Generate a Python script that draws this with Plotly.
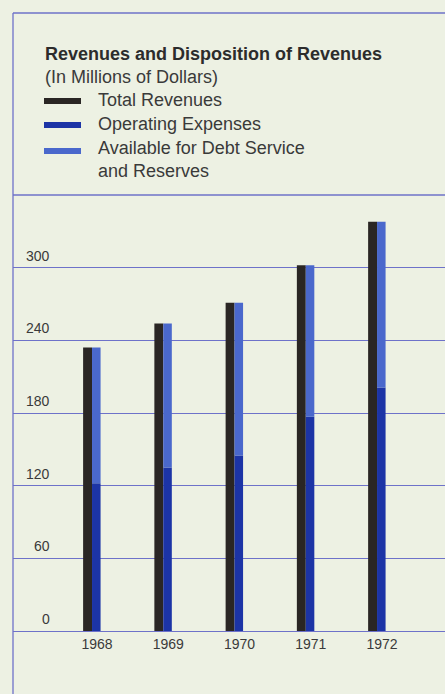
import plotly.graph_objects as go

# Revenues and disposition of revenues, in millions of dollars
years = [1968, 1969, 1970, 1971, 1972]
total_revenues = [234, 254, 271, 302, 338]
operating_expenses = [122, 135, 145, 177, 201]
available_for_debt = [112, 119, 126, 125, 137]
y_tick_values = [0, 60, 120, 180, 240, 300]
y_tick_labels = ["0", "60", "120", "180", "240", "300"]

W, H = 445, 694
ML, MR, MT, MB = 13, 0, 195, 63
PW, PH = W - ML - MR, H - MT - MB

BG = "#edf1e3"
GRID = "#6e72c9"
C_TOTAL = "#2a2624"
C_OPEX = "#1c34a6"
C_AVAIL = "#4a68cc"
TXT = "#3a3a3a"


def px_x(x):
    return (x - ML) / PW


def px_y(y):
    return (H - MB - y) / PH


fig = go.Figure()
fig.add_trace(go.Bar(x=years, y=total_revenues, name="Total Revenues",
                     marker=dict(color=C_TOTAL, line=dict(width=0)),
                     offset=-0.195, width=0.125))
fig.add_trace(go.Bar(x=years, y=operating_expenses, name="Operating Expenses",
                     marker=dict(color=C_OPEX, line=dict(width=0)),
                     offset=-0.07, width=0.12))
fig.add_trace(go.Bar(x=years, y=available_for_debt, base=operating_expenses,
                     name="Available for Debt Service<br>and Reserves",
                     marker=dict(color=C_AVAIL, line=dict(width=0)),
                     offset=-0.07, width=0.12))

shapes = []
annotations = []

# frame: top edge, left edge
line_style = dict(color=GRID, width=1.3)
shapes.append(dict(type="line", xref="paper", yref="paper", x0=0, x1=px_x(W + 5),
                   y0=px_y(13), y1=px_y(13), line=line_style))
shapes.append(dict(type="line", xref="paper", yref="paper", x0=0, x1=0,
                   y0=px_y(13), y1=px_y(H + 5), line=line_style))
# upper edge of the plotting area (360 level)
shapes.append(dict(type="line", xref="paper", yref="paper", x0=0, x1=px_x(W + 5),
                   y0=1, y1=1, line=line_style))

# y tick labels sit just above their gridlines
for v, t in zip(y_tick_values, y_tick_labels):
    annotations.append(dict(x=px_x(52), xref="paper", y=v, yref="y", text=t,
                            showarrow=False, xanchor="right", yanchor="bottom",
                            yshift=2, font=dict(family="Liberation Sans", size=14, color=TXT)))

# legend block
annotations.append(dict(x=px_x(43), xref="paper", y=px_y(54), yref="paper",
                        text="<b>Revenues and Disposition of Revenues</b>",
                        showarrow=False, xanchor="left", yanchor="middle",
                        font=dict(family="Liberation Sans", size=18, color="#2c2c2c")))
annotations.append(dict(x=px_x(43), xref="paper", y=px_y(77), yref="paper",
                        text="(In Millions of Dollars)",
                        showarrow=False, xanchor="left", yanchor="middle",
                        font=dict(family="Liberation Sans", size=18, color=TXT)))

legend_items = [
    (fig.data[0].name, C_TOTAL, 101, 100),
    (fig.data[1].name, C_OPEX, 125, 124),
    (fig.data[2].name, C_AVAIL, 151, 148),
]
for name, color, sy, ty in legend_items:
    shapes.append(dict(type="rect", xref="paper", yref="paper",
                       x0=px_x(44), x1=px_x(81), y0=px_y(sy - 3), y1=px_y(sy + 3),
                       fillcolor=color, line=dict(width=0)))
    annotations.append(dict(x=px_x(96), xref="paper", y=px_y(ty - 12), yref="paper",
                            text=name, showarrow=False, xanchor="left", yanchor="top",
                            align="left",
                            font=dict(family="Liberation Sans", size=18, color=TXT)))

fig.update_layout(
    width=W, height=H,
    margin=dict(l=ML, r=MR, t=MT, b=MB, pad=0),
    paper_bgcolor=BG, plot_bgcolor=BG,
    barmode="overlay", showlegend=False,
    shapes=shapes, annotations=annotations,
    font=dict(family="Liberation Sans", size=14, color=TXT),
)
fig.update_xaxes(range=[1966.821, 1972.884], tickvals=years,
                 ticktext=[str(y) for y in years], showgrid=False, zeroline=False,
                 showline=False, ticks="", ticklabelstandoff=3,
                 tickfont=dict(family="Liberation Sans", size=14, color=TXT))
fig.update_yaxes(range=[0, 360], dtick=60, showgrid=True, gridcolor=GRID, gridwidth=1.3,
                 zeroline=True, zerolinecolor=GRID, zerolinewidth=1.3,
                 showticklabels=False, ticks="", showline=False)

fig.write_html("out.html")
